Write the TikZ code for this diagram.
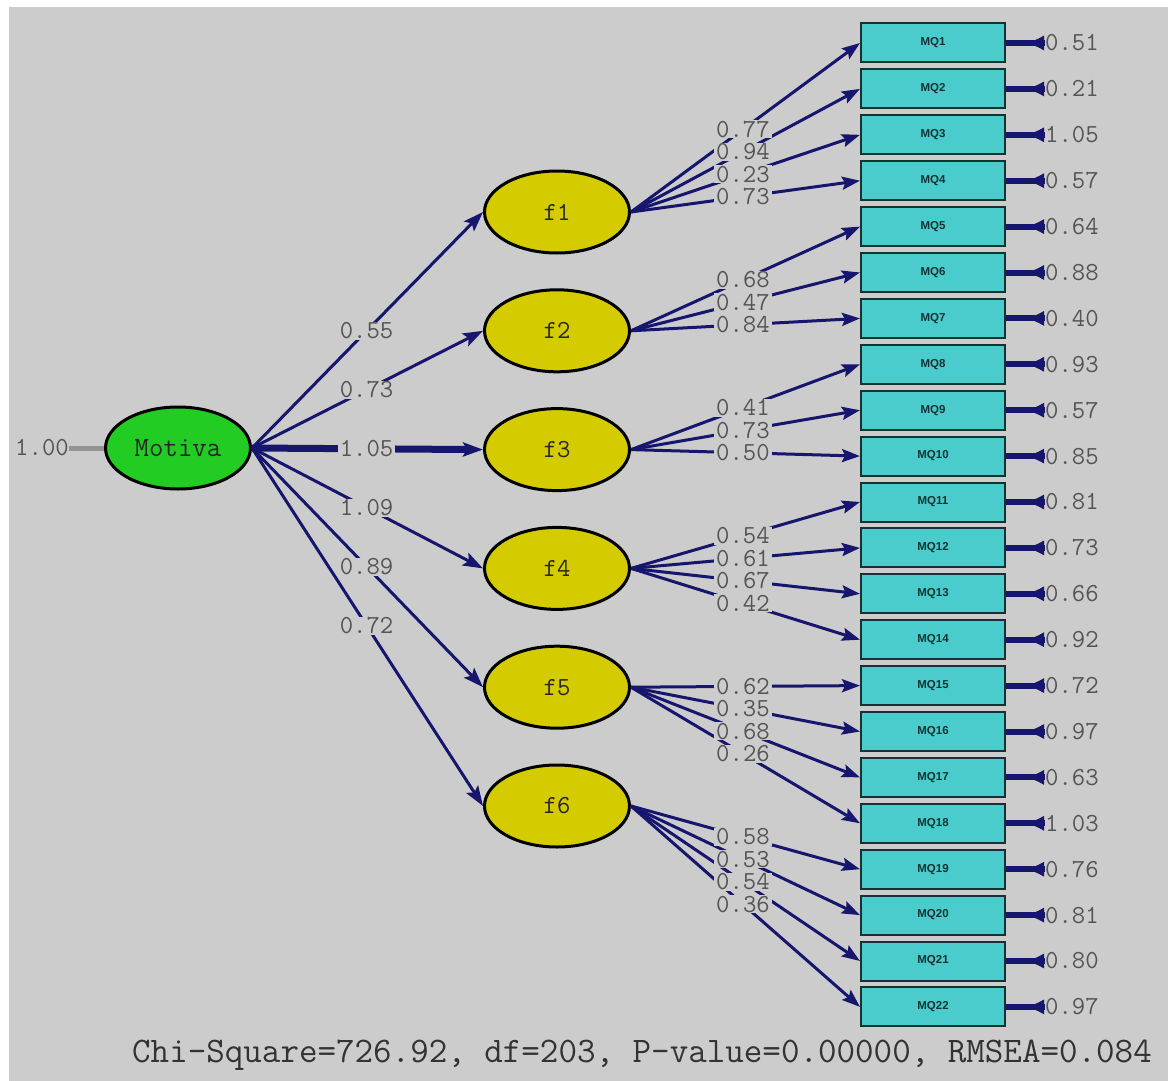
\documentclass[tikz,border=0pt]{standalone}
\usepackage{fontspec}
\newfontfamily\boxfont{Liberation Sans}
\usetikzlibrary{arrows.meta,shapes.geometric}

\definecolor{bggray}{RGB}{204,204,204}
\definecolor{navy}{RGB}{22,22,110}
\definecolor{labgray}{RGB}{85,85,85}
\definecolor{boxcyan}{RGB}{74,204,204}
\definecolor{boxedge}{RGB}{20,50,50}
\definecolor{facyellow}{RGB}{212,204,0}
\definecolor{motgreen}{RGB}{34,204,34}

\tikzset{
  latent/.style={ellipse, draw=black, line width=3pt, fill=facyellow,
    minimum width=145pt, minimum height=82pt, inner sep=0pt,
    font=\ttfamily\fontsize{26}{26}\selectfont, text=black!85},
  observed/.style={rectangle, draw=boxedge, line width=2pt, fill=boxcyan,
    minimum width=144pt, minimum height=39pt, inner sep=0pt,
    font=\boxfont\bfseries\fontsize{11.5}{11.5}\selectfont, text=boxedge},
  loading/.style={draw=navy, line width=3pt,
    -{Stealth[length=18pt,width=13pt,inset=3pt]}},
  structural/.style={draw=navy, line width=3pt,
    -{Stealth[length=20pt,width=14pt,inset=4pt]}},
  errshaft/.style={draw=navy, line width=6pt},
  errhead/.style={draw=navy, line width=1pt,
    -{Latex[length=17pt,width=15pt]}},
  lbl/.style={fill=bggray, inner xsep=2pt, inner ysep=1pt,
    text height=16pt, text depth=0pt, text=labgray,
    font=\ttfamily\fontsize{26}{26}\selectfont},
  errlbl/.style={inner sep=0pt, anchor=west, text=labgray,
    font=\ttfamily\fontsize{26}{26}\selectfont},
}

\begin{document}
\begin{tikzpicture}[x=1pt,y=-1pt]
% canvas
\fill[white] (0,0) rectangle (1168,1081);
\fill[bggray] (9,7) rectangle (1168,1081);
\useasboundingbox (0,0) rectangle (1168,1081);

% second-order factor
\node[latent, fill=motgreen, font=\ttfamily\fontsize{28}{28}\selectfont]
  (mot) at (178,448) {Motiva};
\node[errlbl, anchor=east] (v0) at (69,448) {1.00};
\draw[draw=gray!85, line width=5pt] (v0.east) -- (mot.west);

% first-order factors
\foreach \k in {1,...,6} {
  \pgfmathsetmacro\fy{212+(\k-1)*118.8}
  \node[latent] (f\k) at (557,\fy) {f\k};
}

% observed indicators with error variances
\foreach \i/\ev in {1/0.51,2/0.21,3/1.05,4/0.57,5/0.64,6/0.88,7/0.40,8/0.93,
  9/0.57,10/0.85,11/0.81,12/0.73,13/0.66,14/0.92,15/0.72,16/0.97,17/0.63,
  18/1.03,19/0.76,20/0.81,21/0.80,22/0.97} {
  \pgfmathsetmacro\my{43+(\i-1)*45.9}
  \node[observed] (mq\i) at (933,\my) {MQ\i};
  \node[errlbl] (e\i) at (1045,\my) {\ev};
  \draw[errshaft] (e\i.west) -- (mq\i.east);
  \draw[errhead] ([xshift=-1pt]e\i.west) -- ++(-17,0);
}

% structural paths
\foreach \k in {1,2,4,5,6}
  \draw[structural] (mot.east) -- coordinate[pos=0.496] (s\k) (f\k.west);
\draw[structural, line width=7pt] (mot.east) -- coordinate[pos=0.496] (s3) (f3.west);
\foreach \k/\v in {1/0.55,2/0.73,3/1.05,4/1.09,5/0.89,6/0.72}
  \node[lbl] at (s\k) {\v};

% factor loadings
\foreach \k/\i in {1/1,1/2,1/3,1/4,2/5,2/6,2/7,3/8,3/9,3/10,4/11,4/12,4/13,
  4/14,5/15,5/16,5/17,5/18,6/19,6/20,6/21,6/22}
  \draw[loading] (f\k.east) -- coordinate[pos=0.489] (l\i) (mq\i.west);
\foreach \i/\v in {1/0.77,2/0.94,3/0.23,4/0.73,5/0.68,6/0.47,7/0.84,8/0.41,
  9/0.73,10/0.50,11/0.54,12/0.61,13/0.67,14/0.42,15/0.62,16/0.35,17/0.68,
  18/0.26,19/0.58,20/0.53,21/0.54,22/0.36}
  \node[lbl] at (l\i) {\v};

% fit statistics
\node[text=black!80, font=\ttfamily\fontsize{36}{36}\selectfont]
  (fit) at (642,1055) {Chi-Square=726.92, df=203, P-value=0.00000, RMSEA=0.084};
\end{tikzpicture}
\end{document}
